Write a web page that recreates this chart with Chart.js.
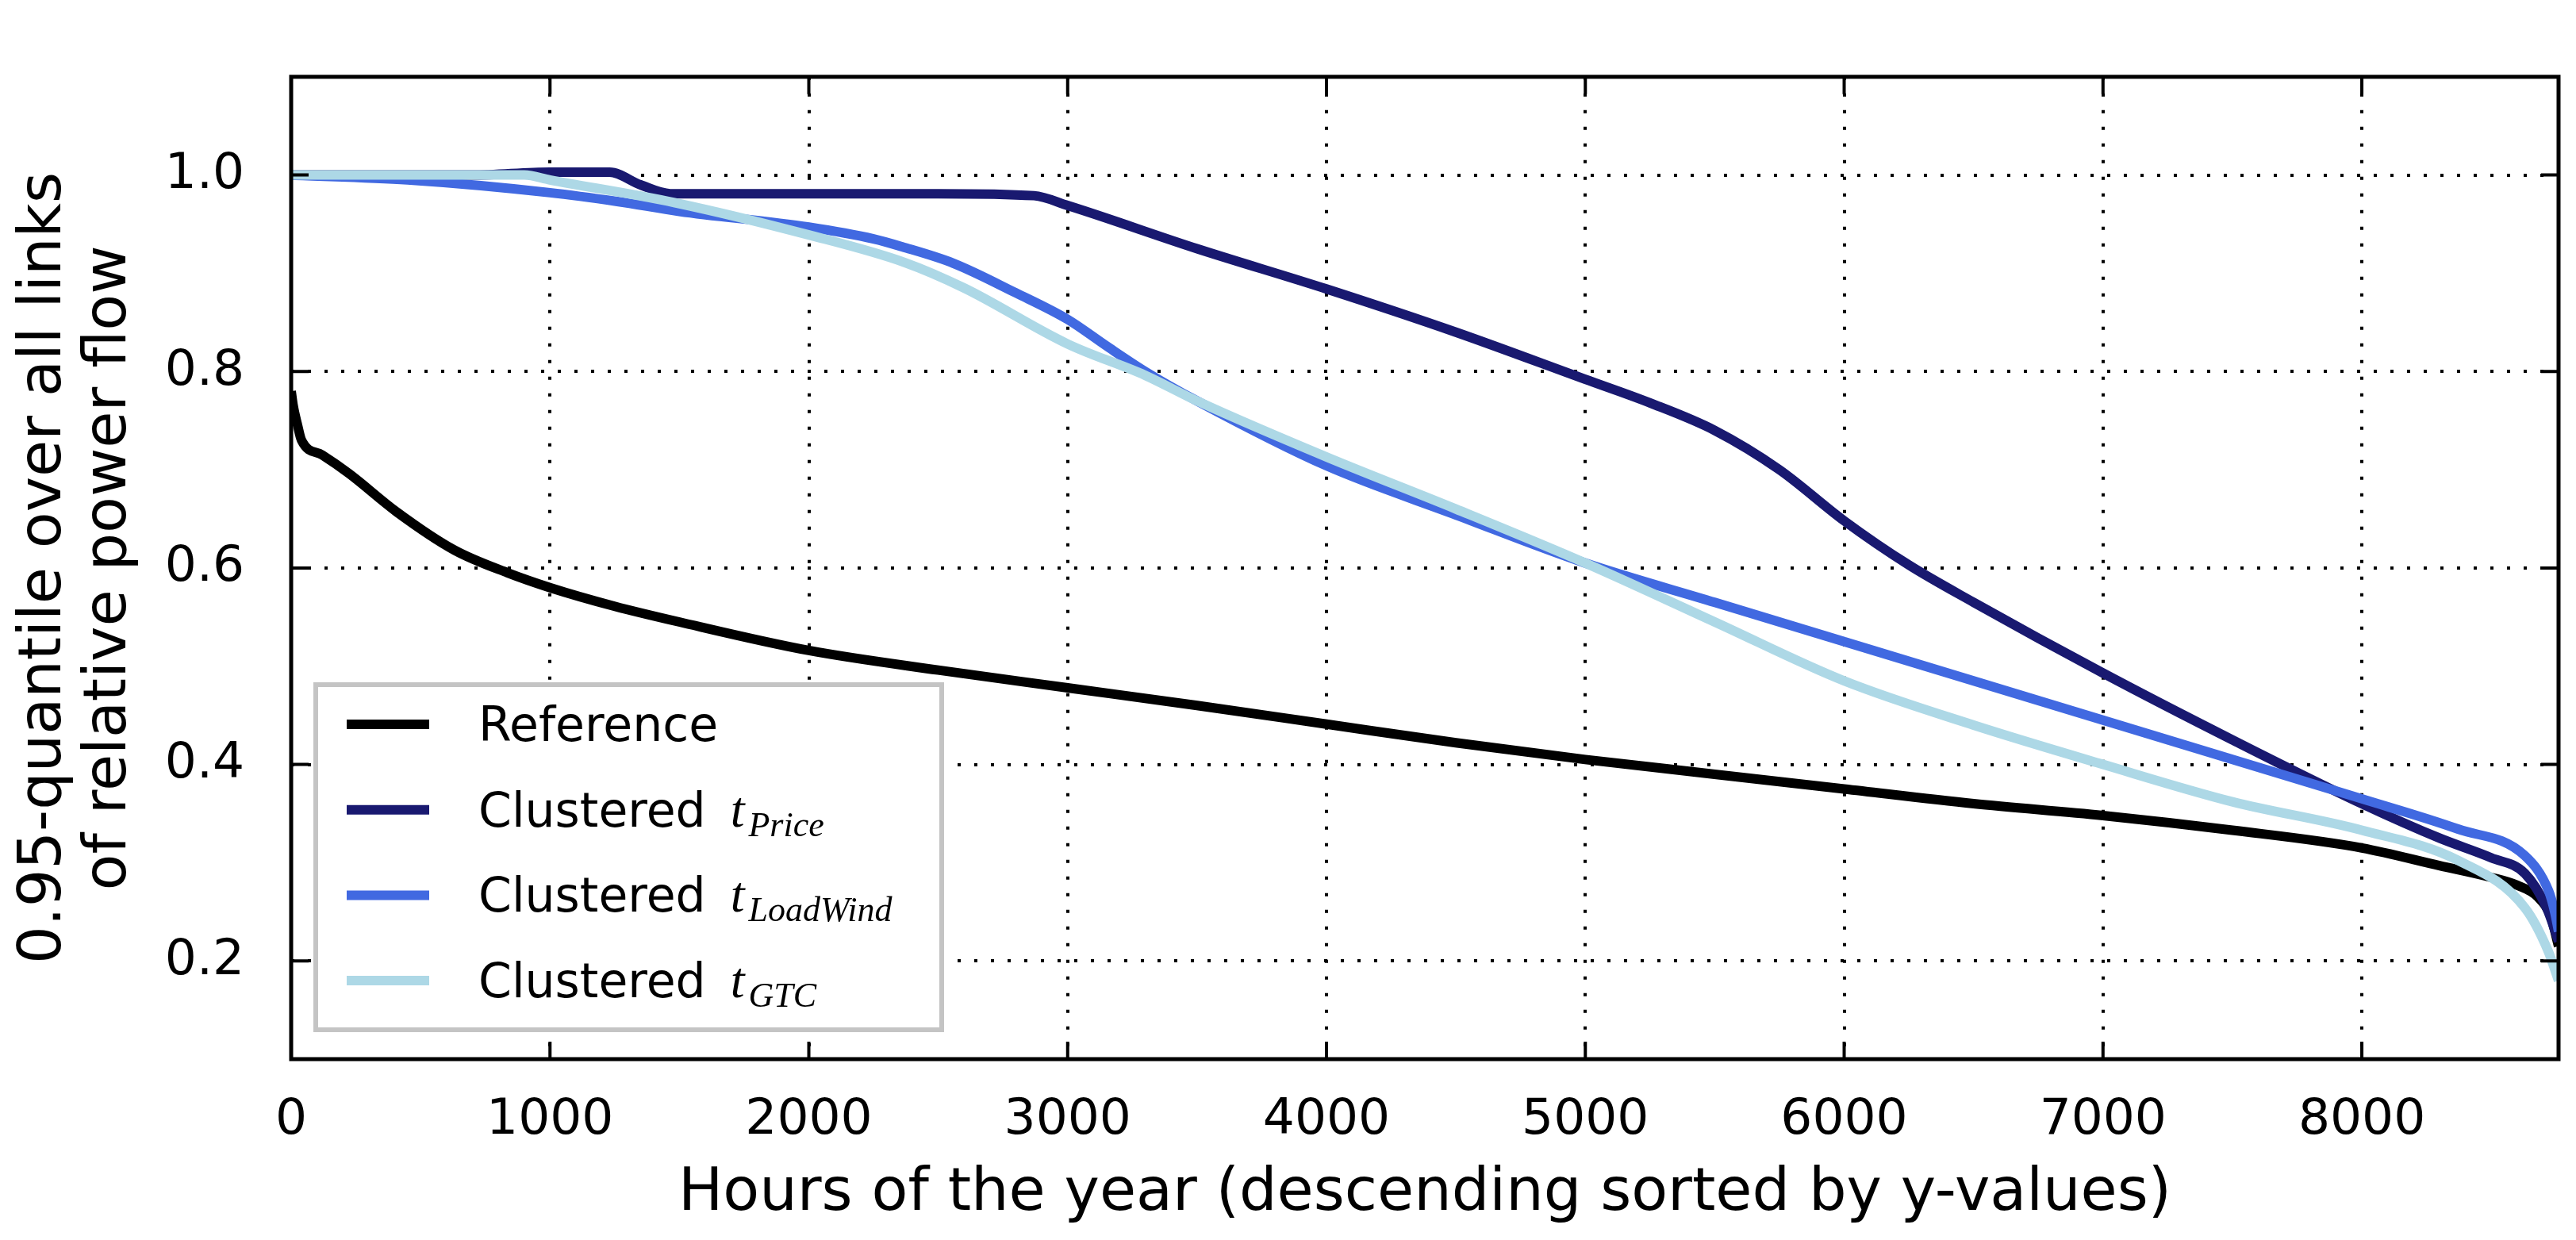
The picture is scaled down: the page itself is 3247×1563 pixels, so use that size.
<!DOCTYPE html>
<html>
<head>
<meta charset="utf-8">
<script src="https://cdn.jsdelivr.net/npm/chart.js@4.4.1/dist/chart.umd.min.js"></script>
<style>
  html, body { margin: 0; padding: 0; background: #fff; }
  canvas { display: block; }
</style>
</head>
<body>
<canvas id="chart" width="3247" height="1563"></canvas>
<script>
// values (hours sorted by y-value)
const xTicks = [0, 1000, 2000, 3000, 4000, 5000, 6000, 7000, 8000];
const yTicks = [0.2, 0.4, 0.6, 0.8, 1.0];

const refHours  = [0, 8, 25, 40, 120, 224, 408, 632, 837, 1000, 1250, 1500, 2000, 2500, 3000, 3500, 4000, 4500, 5000, 5500, 6000, 6500, 7000, 7500, 8000, 8300, 8500, 8600, 8680, 8730, 8760];
const refValues = [0.78, 0.765, 0.745, 0.73, 0.715, 0.696, 0.657, 0.618, 0.595, 0.58, 0.561, 0.545, 0.516, 0.496, 0.478, 0.46, 0.441, 0.422, 0.405, 0.39, 0.375, 0.36, 0.348, 0.333, 0.315, 0.297, 0.285, 0.277, 0.265, 0.245, 0.215];

const priceHours  = [0, 700, 1000, 1230, 1350, 1465, 2000, 2500, 2870, 3000, 3500, 4000, 4500, 5000, 5250, 5500, 5750, 6000, 6250, 6500, 7000, 7500, 8000, 8300, 8500, 8630, 8714, 8760];
const priceValues = [1.0, 1.0, 1.003, 1.003, 0.99, 0.981, 0.981, 0.981, 0.979, 0.969, 0.925, 0.884, 0.84, 0.792, 0.768, 0.74, 0.70, 0.648, 0.603, 0.565, 0.493, 0.425, 0.36, 0.325, 0.305, 0.289, 0.254, 0.22];

const loadWindHours  = [0, 450, 1000, 1260, 1500, 2000, 2250, 2360, 2560, 2800, 3000, 3150, 3300, 3500, 4000, 4500, 5000, 5500, 6000, 6500, 7000, 7500, 8000, 8374, 8630, 8722, 8745, 8760];
const loadWindValues = [1.0, 0.995, 0.982, 0.973, 0.963, 0.947, 0.935, 0.927, 0.91, 0.88, 0.853, 0.826, 0.80, 0.77, 0.704, 0.654, 0.605, 0.565, 0.525, 0.485, 0.445, 0.405, 0.365, 0.334, 0.307, 0.271, 0.25, 0.23];

const gtcHours  = [0, 900, 1000, 1480, 2000, 2370, 2600, 3000, 3300, 3500, 4000, 4500, 5000, 5500, 6000, 6500, 7000, 7500, 8000, 8374, 8630, 8720, 8760];
const gtcValues = [1.0, 1.0, 0.995, 0.972, 0.939, 0.911, 0.885, 0.828, 0.796, 0.77, 0.713, 0.66, 0.605, 0.545, 0.485, 0.44, 0.40, 0.362, 0.333, 0.302, 0.254, 0.21, 0.18];

const seriesLabels = ['Reference', 'Clustered', 'Clustered', 'Clustered'];
const seriesSubs   = ['', 'Price', 'LoadWind', 'GTC'];
const seriesColors = ['#000000', '#191970', '#4169e1', '#add8e6'];

function toPoints(hours, values) {
    return hours.map((h, i) => ({ x: h, y: values[i] }));
}

const allSeries = [
    toPoints(refHours, refValues),
    toPoints(priceHours, priceValues),
    toPoints(loadWindHours, loadWindValues),
    toPoints(gtcHours, gtcValues)
];

// frame round the axes and inward tick marks (matplotlib look)
const framePlugin = {
    id: 'frame',
    afterDraw(chart) {
        const ctx = chart.ctx;
        const a = chart.chartArea;
        const xs = chart.scales.x, ys = chart.scales.y;
        ctx.save();
        ctx.strokeStyle = '#000';
        ctx.lineWidth = 4;
        ctx.beginPath();
        xTicks.forEach(v => {
            const px = xs.getPixelForValue(v);
            ctx.moveTo(px, a.bottom); ctx.lineTo(px, a.bottom - 22);
            ctx.moveTo(px, a.top); ctx.lineTo(px, a.top + 22);
        });
        yTicks.forEach(v => {
            const py = ys.getPixelForValue(v);
            ctx.moveTo(a.left, py); ctx.lineTo(a.left + 22, py);
            ctx.moveTo(a.right, py); ctx.lineTo(a.right - 22, py);
        });
        ctx.stroke();
        ctx.lineWidth = 5;
        ctx.strokeRect(a.left, a.top, a.right - a.left, a.bottom - a.top);
        ctx.restore();
    }
};

// legend with math-style subscripts
const legendPlugin = {
    id: 'mplLegend',
    afterDraw(chart) {
        const ctx = chart.ctx;
        const a = chart.chartArea;
        const box = { x: a.left + 31, y: a.bottom - 37 - 435, w: 789, h: 435 };
        ctx.save();
        ctx.fillStyle = '#fff';
        ctx.fillRect(box.x, box.y, box.w, box.h);
        ctx.strokeStyle = '#c4c4c4';
        ctx.lineWidth = 6;
        ctx.strokeRect(box.x, box.y, box.w, box.h);

        seriesLabels.forEach((label, i) => {
            const rowY = box.y + 50 + i * 107.7;
            ctx.strokeStyle = seriesColors[i];
            ctx.lineWidth = 12;
            ctx.beginPath();
            ctx.moveTo(box.x + 39, rowY);
            ctx.lineTo(box.x + 143, rowY);
            ctx.stroke();

            const tx = box.x + 205;
            const base = rowY + 21;
            ctx.fillStyle = '#000';
            ctx.textBaseline = 'alphabetic';
            ctx.textAlign = 'left';
            ctx.font = '60px "DejaVu Sans"';
            ctx.fillText(label, tx, base);
            if (seriesSubs[i]) {
                const w = ctx.measureText(label + ' ').width;
                const mx = tx + w + 12;
                ctx.font = 'italic 64px "Liberation Serif"';
                ctx.fillText('t', mx, base);
                const tw = ctx.measureText('t').width;
                ctx.font = 'italic 44px "Liberation Serif"';
                ctx.fillText(seriesSubs[i], mx + tw + 5, base + 12);
            }
        });
        ctx.restore();
    }
};

const ctx = document.getElementById('chart').getContext('2d');

const config = {
    type: 'line',
    data: {
        datasets: allSeries.map((pts, i) => ({
            label: seriesLabels[i] + (seriesSubs[i] ? ' t_' + seriesSubs[i] : ''),
            data: pts,
            borderColor: seriesColors[i],
            borderWidth: 12,
            pointRadius: 0,
            fill: false,
            cubicInterpolationMode: 'monotone',
            borderJoinStyle: 'round',
            order: 4 - i
        }))
    },
    options: {
        responsive: false,
        devicePixelRatio: 1,
        animation: false,
        layout: { padding: { top: 29, right: 22, left: 0, bottom: 0 } },
        plugins: {
            legend: { display: false },
            tooltip: { enabled: false }
        },
        scales: {
            x: {
                type: 'linear',
                min: 0,
                max: 8760,
                z: 1,
                afterFit: s => { s.height = 228; },
                afterBuildTicks: s => { s.ticks = xTicks.map(v => ({ value: v })); },
                ticks: {
                    color: '#000',
                    padding: 40,
                    font: { family: 'DejaVu Sans', size: 63 },
                    callback: v => String(v),
                    maxRotation: 0
                },
                grid: { color: '#000', lineWidth: 4, drawTicks: false },
                border: { display: false, dash: [4, 17] },
                title: {
                    display: true,
                    text: 'Hours of the year (descending sorted by y-values)',
                    color: '#000',
                    font: { family: 'DejaVu Sans', size: 75, lineHeight: 1.1 },
                    padding: { top: 0, bottom: 16 }
                }
            },
            y: {
                type: 'linear',
                min: 0.1,
                max: 1.1,
                z: 1,
                afterFit: s => { s.width = 367; },
                afterBuildTicks: s => { s.ticks = yTicks.map(v => ({ value: v })); },
                ticks: {
                    color: '#000',
                    padding: 59,
                    font: { family: 'DejaVu Sans', size: 63 },
                    callback: v => Number(v).toFixed(1)
                },
                grid: { color: '#000', lineWidth: 4, drawTicks: false },
                border: { display: false, dash: [4, 17] },
                title: {
                    display: true,
                    text: ['0.95-quantile over all links', 'of relative power flow'],
                    color: '#000',
                    font: { family: 'DejaVu Sans', size: 75, lineHeight: 1.093 },
                    padding: { top: 16, bottom: 0 }
                }
            }
        }
    },
    plugins: [framePlugin, legendPlugin]
};

new Chart(ctx, config);
</script>
</body>
</html>
